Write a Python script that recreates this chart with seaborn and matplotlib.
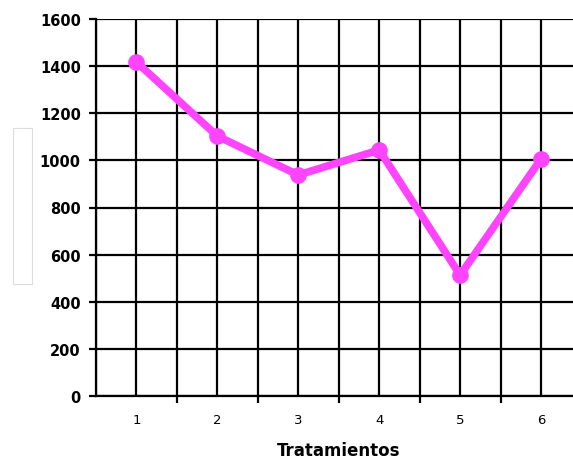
import matplotlib
matplotlib.use("Agg")
import matplotlib.pyplot as plt
import seaborn as sns
import pandas as pd
from matplotlib.patches import Rectangle

tratamientos = [1, 2, 3, 4, 5, 6]
valores = [1417, 1103, 938, 1044, 513, 1006]
y_ticks = [0, 200, 400, 600, 800, 1000, 1200, 1400, 1600]

df = pd.DataFrame({"Tratamientos": tratamientos, "Valor": valores})

sns.set_theme(style="white")
plt.rcParams['font.family'] = ['DejaVu Sans']
plt.rcParams['text.color'] = 'black'
plt.rcParams['xtick.color'] = 'black'
plt.rcParams['ytick.color'] = 'black'
plt.rcParams['axes.labelcolor'] = 'black'

fig = plt.figure(figsize=(5.73, 4.6), dpi=100)
ax = fig.add_axes([96/573, 63/460, 485.5/573, 377/460])

# grid
for yv in y_ticks:
    ax.axhline(yv, color="black", lw=1.6, zorder=1)
for xv in [i/2 for i in range(1, 14)]:
    ax.axvline(xv, color="black", lw=1.6, zorder=1)

sns.lineplot(data=df, x="Tratamientos", y="Valor", ax=ax, color="#FF44FF",
             lw=5.5, marker="o", markersize=12, markeredgewidth=0, zorder=3)

ax.set_xlim(0.5, 6.5)
ax.set_ylim(0, 1600)
ax.set_yticks(y_ticks)
ax.set_yticklabels([str(v) for v in y_ticks], fontsize=10.5, fontweight="semibold")
ax.set_xticks([1.5, 2.5, 3.5, 4.5, 5.5])
ax.set_xticklabels([])
ax.set_xticks(tratamientos, minor=True)
ax.set_xticklabels([str(t) for t in tratamientos], minor=True, fontsize=9.5)
ax.tick_params(axis="x", which="major", direction="out", length=5, width=1.6, color="black", bottom=True)
ax.tick_params(axis="x", which="minor", length=0, pad=12)
ax.tick_params(axis="y", direction="out", length=5, width=1.6, color="black", left=True, pad=6)

for s in ["top", "right"]:
    ax.spines[s].set_visible(False)
for s in ["left", "bottom"]:
    ax.spines[s].set_color("black")
    ax.spines[s].set_linewidth(1.6)

ax.set_xlabel("Tratamientos", fontsize=12, fontweight="bold", labelpad=11)
ax.set_ylabel("")

fig.patches.append(Rectangle((13/573, 1 - 285/460), 19/573, 156/460,
                             transform=fig.transFigure, fill=False,
                             edgecolor="#dddddd", lw=0.8))

fig.savefig("out.png", dpi=100)
